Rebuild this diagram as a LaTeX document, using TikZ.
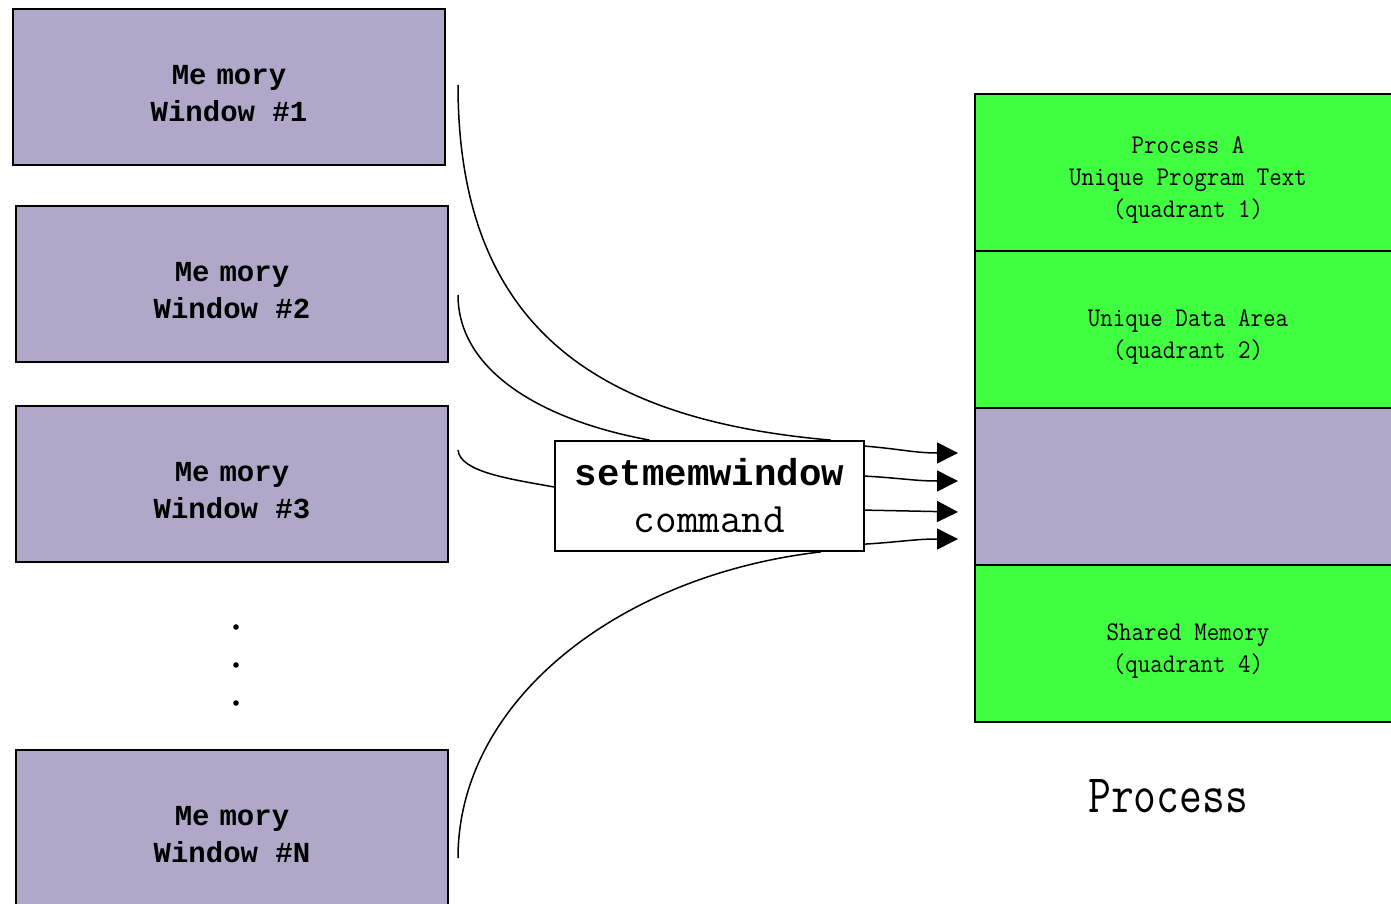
\documentclass[tikz,border=0pt]{standalone}
\usepackage{fontspec}
\newfontfamily\boldmono{Liberation Mono}
\usetikzlibrary{arrows.meta,calc}
\definecolor{winpurple}{RGB}{175,168,200}
\definecolor{procgreen}{RGB}{64,255,64}
\newcommand{\sqz}[1]{\scalebox{0.9}[1]{#1}}
\tikzset{
  window/.style={draw=black, line width=0.9pt, fill=winpurple, minimum width=216pt, minimum height=78pt, inner sep=0pt},
  wintext/.style={align=center, inner sep=0pt, yshift=-3.2pt,
    font=\boldmono\bfseries\fontsize{14.5pt}{18.5pt}\selectfont},
  procbox/.style={draw=black, line width=0.9pt, minimum width=210pt, minimum height=78.5pt, inner sep=0pt},
  proctext/.style={align=center, inner sep=0pt, yshift=-3.7pt, xshift=1.5pt,
    font=\ttfamily\fontsize{13.5pt}{16pt}\selectfont},
  cmdbox/.style={draw=black, line width=0.9pt, fill=white, minimum width=154.5pt, minimum height=55pt, inner sep=0pt, align=center,
    font=\fontsize{19pt}{23.5pt}\selectfont},
  link/.style={line width=0.75pt},
  feed/.style={line width=0.75pt, -{Triangle[length=10.5pt,width=10.5pt]}},
  dotmark/.style={circle, fill=black, inner sep=0pt, minimum size=2.8pt}
}
\begin{document}
\begin{tikzpicture}[x=0.5pt,y=-0.5pt]
\useasboundingbox (0,0) rectangle (1391,904);
\clip (0,0) rectangle (1391,904);

% memory windows
\node[window, label={[wintext]center:Me\kern5pt mory\\Window \#1}] (w1) at (229,87) {};
\node[window, label={[wintext]center:Me\kern5pt mory\\Window \#2}] (w2) at (232,284) {};
\node[window, label={[wintext]center:Me\kern5pt mory\\Window \#3}] (w3) at (232,484) {};
\node[window, label={[wintext]center:Me\kern5pt mory\\Window \#N}] (wn) at (232,828) {};

% dots
\node[dotmark] (d1) at (236,627) {};
\node[dotmark] (d2) at (236,665) {};
\node[dotmark] (d3) at (236,703) {};

% process column
\node[procbox, fill=procgreen, label={[proctext]center:\sqz{Process A}\\\sqz{Unique Program Text}\\\sqz{(quadrant 1)}}] (q1) at (1185,172.5) {};
\node[procbox, fill=procgreen, label={[proctext]center:\sqz{Unique Data Area}\\\sqz{(quadrant 2)}}] (q2) at (1185,329.5) {};
\node[procbox, fill=winpurple] (q3) at (1185,486.5) {};
\node[procbox, fill=procgreen, label={[proctext]center:\sqz{Shared Memory}\\\sqz{(quadrant 4)}}] (q4) at (1185,643.5) {};
\node[font=\ttfamily\fontsize{27pt}{30pt}\selectfont] (plabel) at (1168,796) {\scalebox{0.82}[1]{Process}};

% command box
\node[cmdbox] (cmd) at (709.5,496) {{\boldmono\bfseries\fontsize{18.7pt}{23.5pt}\selectfont setmemwindow}\\
  {\ttfamily\fontsize{21pt}{23.5pt}\selectfont command}};

% curve start points
\coordinate (c1) at (458,85);
\coordinate (c2) at (458,295);
\coordinate (c3) at (458,450);
\coordinate (cn) at (458,858);

\draw[link] (c1) .. controls (458,330) and (600,420) .. ($(cmd.north west)!0.89!(cmd.north east)$);
\draw[link] (c2) .. controls (458,370) and (540,420) .. ($(cmd.north west)!0.307!(cmd.north east)$);
\draw[link] (c3) .. controls (460,472) and (510,479) .. ($(cmd.west)+(0,-9)$);
\draw[link] (cn) .. controls (458,700) and (620,575) .. ($(cmd.south west)!0.858!(cmd.south east)$);

% arrows into process
\coordinate (s1) at ($(cmd.north east)+(0,6)$);
\coordinate (s2) at ($(cmd.north east)+(0,36)$);
\coordinate (s3) at ($(cmd.north east)+(0,70)$);
\coordinate (s4) at ($(cmd.north east)+(0,104)$);
\coordinate (t1) at (958,453);
\coordinate (t2) at (958,481);
\coordinate (t3) at (958,512);
\coordinate (t4) at (958,539);

\draw[feed] (s1) .. controls (900,449) and (915,453) .. (t1);
\draw[feed] (s2) .. controls (900,478) and (915,481) .. (t2);
\draw[feed] (s3) -- (t3);
\draw[feed] (s4) .. controls (900,542) and (915,539) .. (t4);
\end{tikzpicture}
\end{document}
